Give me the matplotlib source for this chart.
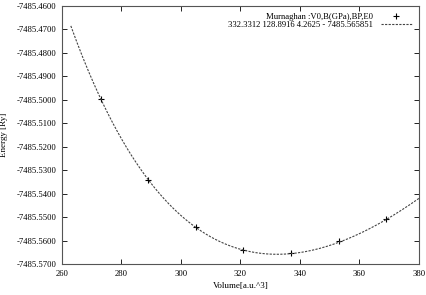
import matplotlib
matplotlib.use("Agg")
import matplotlib.pyplot as plt
import numpy as np

# measured points (volume, energy)
volume = [273, 289, 305, 321, 337, 353, 369]
energy = [-7485.4997, -7485.5342, -7485.5542, -7485.5641, -7485.5653, -7485.5603, -7485.5508]

# Murnaghan fit parameters from the legend
V0 = 332.3312
B_gpa = 128.8916
BP = 4.2625
E0 = -7485.565851

def murnaghan(V):
    B = B_gpa / 14710.507848  # GPa -> Ry/bohr^3
    return E0 + B * V / BP * ((V0 / V) ** BP / (BP - 1) + 1) - B * V0 / (BP - 1)

vfit = np.linspace(263, 380, 300)

plt.rcParams["font.family"] = ["Liberation Serif", "DejaVu Serif"]
plt.rcParams["font.size"] = 6

fig = plt.figure(figsize=(4.27, 2.95), dpi=100)
ax = fig.add_axes([0.145, 0.105, 0.836, 0.875])

ax.plot(volume, energy, "+", color="black", markersize=5, markeredgewidth=0.8,
        label="Murnaghan :V0,B(GPa),BP,E0")
ax.plot(vfit, murnaghan(vfit), linestyle=(0, (2, 1.2)), color="#444444", linewidth=0.8,
        label="332.3312 128.8916 4.2625 - 7485.565851")

ax.set_xlim(260, 380)
ax.set_ylim(-7485.57, -7485.46)
ax.set_xticks(np.arange(260, 381, 20))
ax.set_yticks(np.linspace(-7485.57, -7485.46, 12))
ax.yaxis.set_major_formatter(matplotlib.ticker.FormatStrFormatter("%.4f"))
ax.tick_params(direction="in", top=True, right=True, length=3.5, width=0.6, labelsize=6.2, pad=4)
for s in ax.spines.values():
    s.set_linewidth(0.8)
    s.set_color("#555555")

ax.set_xlabel("Volume[a.u.^3]", fontsize=6.5, labelpad=3)
ax.set_ylabel("Energy [Ry]", fontsize=6.5, labelpad=6)

leg = ax.legend(loc="upper right", frameon=False, markerfirst=False, handlelength=3.6,
                fontsize=6.2, borderaxespad=0.4, labelspacing=0.05, handletextpad=0.9)
for t in leg.get_texts():
    t.set_ha("right")
leg._legend_box.align = "right"

fig.savefig("out.png", dpi=100)
